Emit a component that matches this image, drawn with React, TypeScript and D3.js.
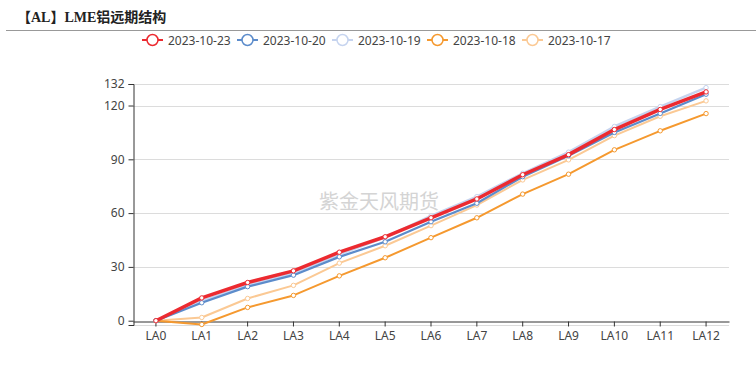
import { useEffect, useRef } from "react";
import * as d3 from "d3";

const categories = ["LA0", "LA1", "LA2", "LA3", "LA4", "LA5", "LA6", "LA7", "LA8", "LA9", "LA10", "LA11", "LA12"];
const seriesNames = ["2023-10-23", "2023-10-20", "2023-10-19", "2023-10-18", "2023-10-17"];
const d1023 = [0, 12.7, 21.3, 27.8, 38.2, 46.8, 57.4, 67.9, 81.4, 92.6, 106.6, 117.8, 127.6];
const d1020 = [0, 10, 19, 25.4, 35.6, 44, 55.2, 65.5, 80.3, 92, 105, 115.6, 126.3];
const d1019 = [0, 11, 19.8, 26.5, 37, 46.5, 58.4, 69.2, 82.2, 94, 108.3, 119.4, 130];
const d1018 = [0, -2.1, 7.4, 14.1, 25, 35.1, 46.3, 57.4, 70.6, 81.7, 95.3, 105.9, 115.5];
const d1017 = [0, 1.8, 12.4, 19.7, 32.1, 41.8, 53, 64.5, 78.5, 89.7, 103.2, 114, 122.6];
const yTicks = [0, 30, 60, 90, 120, 132];
const colors = ["#ec2a30", "#5c8ccb", "#c6d4ef", "#f5992f", "#fbc994"];
const widths = [3.5, 2.2, 2.5, 2, 2];

export default function App() {
  const svgRef = useRef<SVGSVGElement | null>(null);
  const width = 756;
  const height = 372;

  useEffect(() => {
    const svg = d3.select(svgRef.current);
    svg.selectAll("*").remove();
    const font = "'Noto Sans', 'Noto Sans CJK SC', sans-serif";
    const series = [d1023, d1020, d1019, d1018, d1017];
    const margin = { top: 84, right: 27, bottom: 47, left: 133 };

    // title + divider
    svg.append("text")
      .attr("x", 17).attr("y", 22)
      .style("font-family", "'Liberation Serif', 'Noto Sans CJK SC', serif")
      .style("font-weight", "bold").style("font-size", "14px").style("fill", "#222")
      .text("【AL】LME铝远期结构");
    svg.append("line")
      .attr("x1", 6).attr("x2", width).attr("y1", 30.5).attr("y2", 30.5)
      .attr("stroke", "#999").attr("stroke-width", 1);

    // legend
    const legend = svg.append("g");
    seriesNames.forEach((name, i) => {
      const lx = 142 + i * 95;
      const g = legend.append("g").attr("transform", `translate(${lx},40)`);
      g.append("line").attr("x1", 0).attr("x2", 21).attr("y1", 0).attr("y2", 0)
        .attr("stroke", colors[i]).attr("stroke-width", 2);
      g.append("circle").attr("cx", 10.5).attr("cy", 0).attr("r", 5.5)
        .attr("fill", "#fff").attr("stroke", colors[i]).attr("stroke-width", 1.5);
      g.append("text").attr("x", 26).attr("y", 4.5)
        .style("font-family", font).style("font-size", "12px").style("fill", "#444")
        .text(name);
    });

    const allVals = series.flat();
    const x = d3.scaleBand<string>().domain(categories)
      .range([margin.left, width - margin.right]);
    const y = d3.scaleLinear()
      .domain([d3.min(allVals) as number - 0.3, 132])
      .range([height - margin.bottom, margin.top]);
    const cx = (c: string) => (x(c) as number) + x.bandwidth() / 2;

    // grid
    svg.append("g").selectAll("line")
      .data([y.domain()[0], ...yTicks.filter((t) => t !== 0)])
      .join("line")
      .attr("x1", margin.left).attr("x2", width - margin.right)
      .attr("y1", (d) => Math.round(y(d)) + 0.5).attr("y2", (d) => Math.round(y(d)) + 0.5)
      .attr("stroke", "#dcdcdc").attr("stroke-width", 1);

    // watermark
    svg.append("text")
      .attr("x", 379).attr("y", 209).attr("text-anchor", "middle")
      .style("font-family", "'Noto Sans CJK SC', sans-serif").style("font-size", "20px")
      .style("fill", "#d4d4d4")
      .text("紫金天风期货");

    // y axis
    const yAxis = d3.axisLeft(y).tickValues(yTicks).tickSize(5).tickPadding(4)
      .tickFormat((d) => String(d));
    const yg = svg.append("g").attr("transform", `translate(${margin.left + 0.5},0)`).call(yAxis);
    yg.select(".domain").attr("stroke", "#333");
    yg.selectAll(".tick line").attr("stroke", "#333");
    yg.selectAll(".tick text").style("font-family", font).style("font-size", "12px").style("fill", "#444");

    // x axis on zero
    const xAxis = d3.axisBottom(x).tickSize(5).tickPadding(5).tickSizeOuter(0);
    const xg = svg.append("g").attr("transform", `translate(0,${Math.round(y(0)) + 0.5})`).call(xAxis);
    xg.select(".domain").attr("stroke", "#333");
    xg.selectAll(".tick line").attr("stroke", "#333");
    xg.selectAll(".tick text").style("font-family", font).style("font-size", "12px").style("fill", "#444");

    // series, drawn last-first so the newest is on top
    const line = d3.line<number>().x((_, i) => cx(categories[i])).y((d) => y(d));
    for (let s = series.length - 1; s >= 0; s--) {
      const g = svg.append("g");
      g.append("path").datum(series[s]).attr("d", line)
        .attr("fill", "none").attr("stroke", colors[s]).attr("stroke-width", widths[s])
        .attr("stroke-linejoin", "round");
      g.selectAll("circle").data(series[s]).join("circle")
        .attr("cx", (_, i) => cx(categories[i])).attr("cy", (d) => y(d)).attr("r", 2.2)
        .attr("fill", "#fff").attr("stroke", colors[s]).attr("stroke-width", 1);
    }
  }, []);

  return (
    <svg
      ref={svgRef}
      width={width}
      height={height}
      style={{ position: "absolute", left: 0, top: 0, backgroundColor: "#ffffff" }}
    />
  );
}
